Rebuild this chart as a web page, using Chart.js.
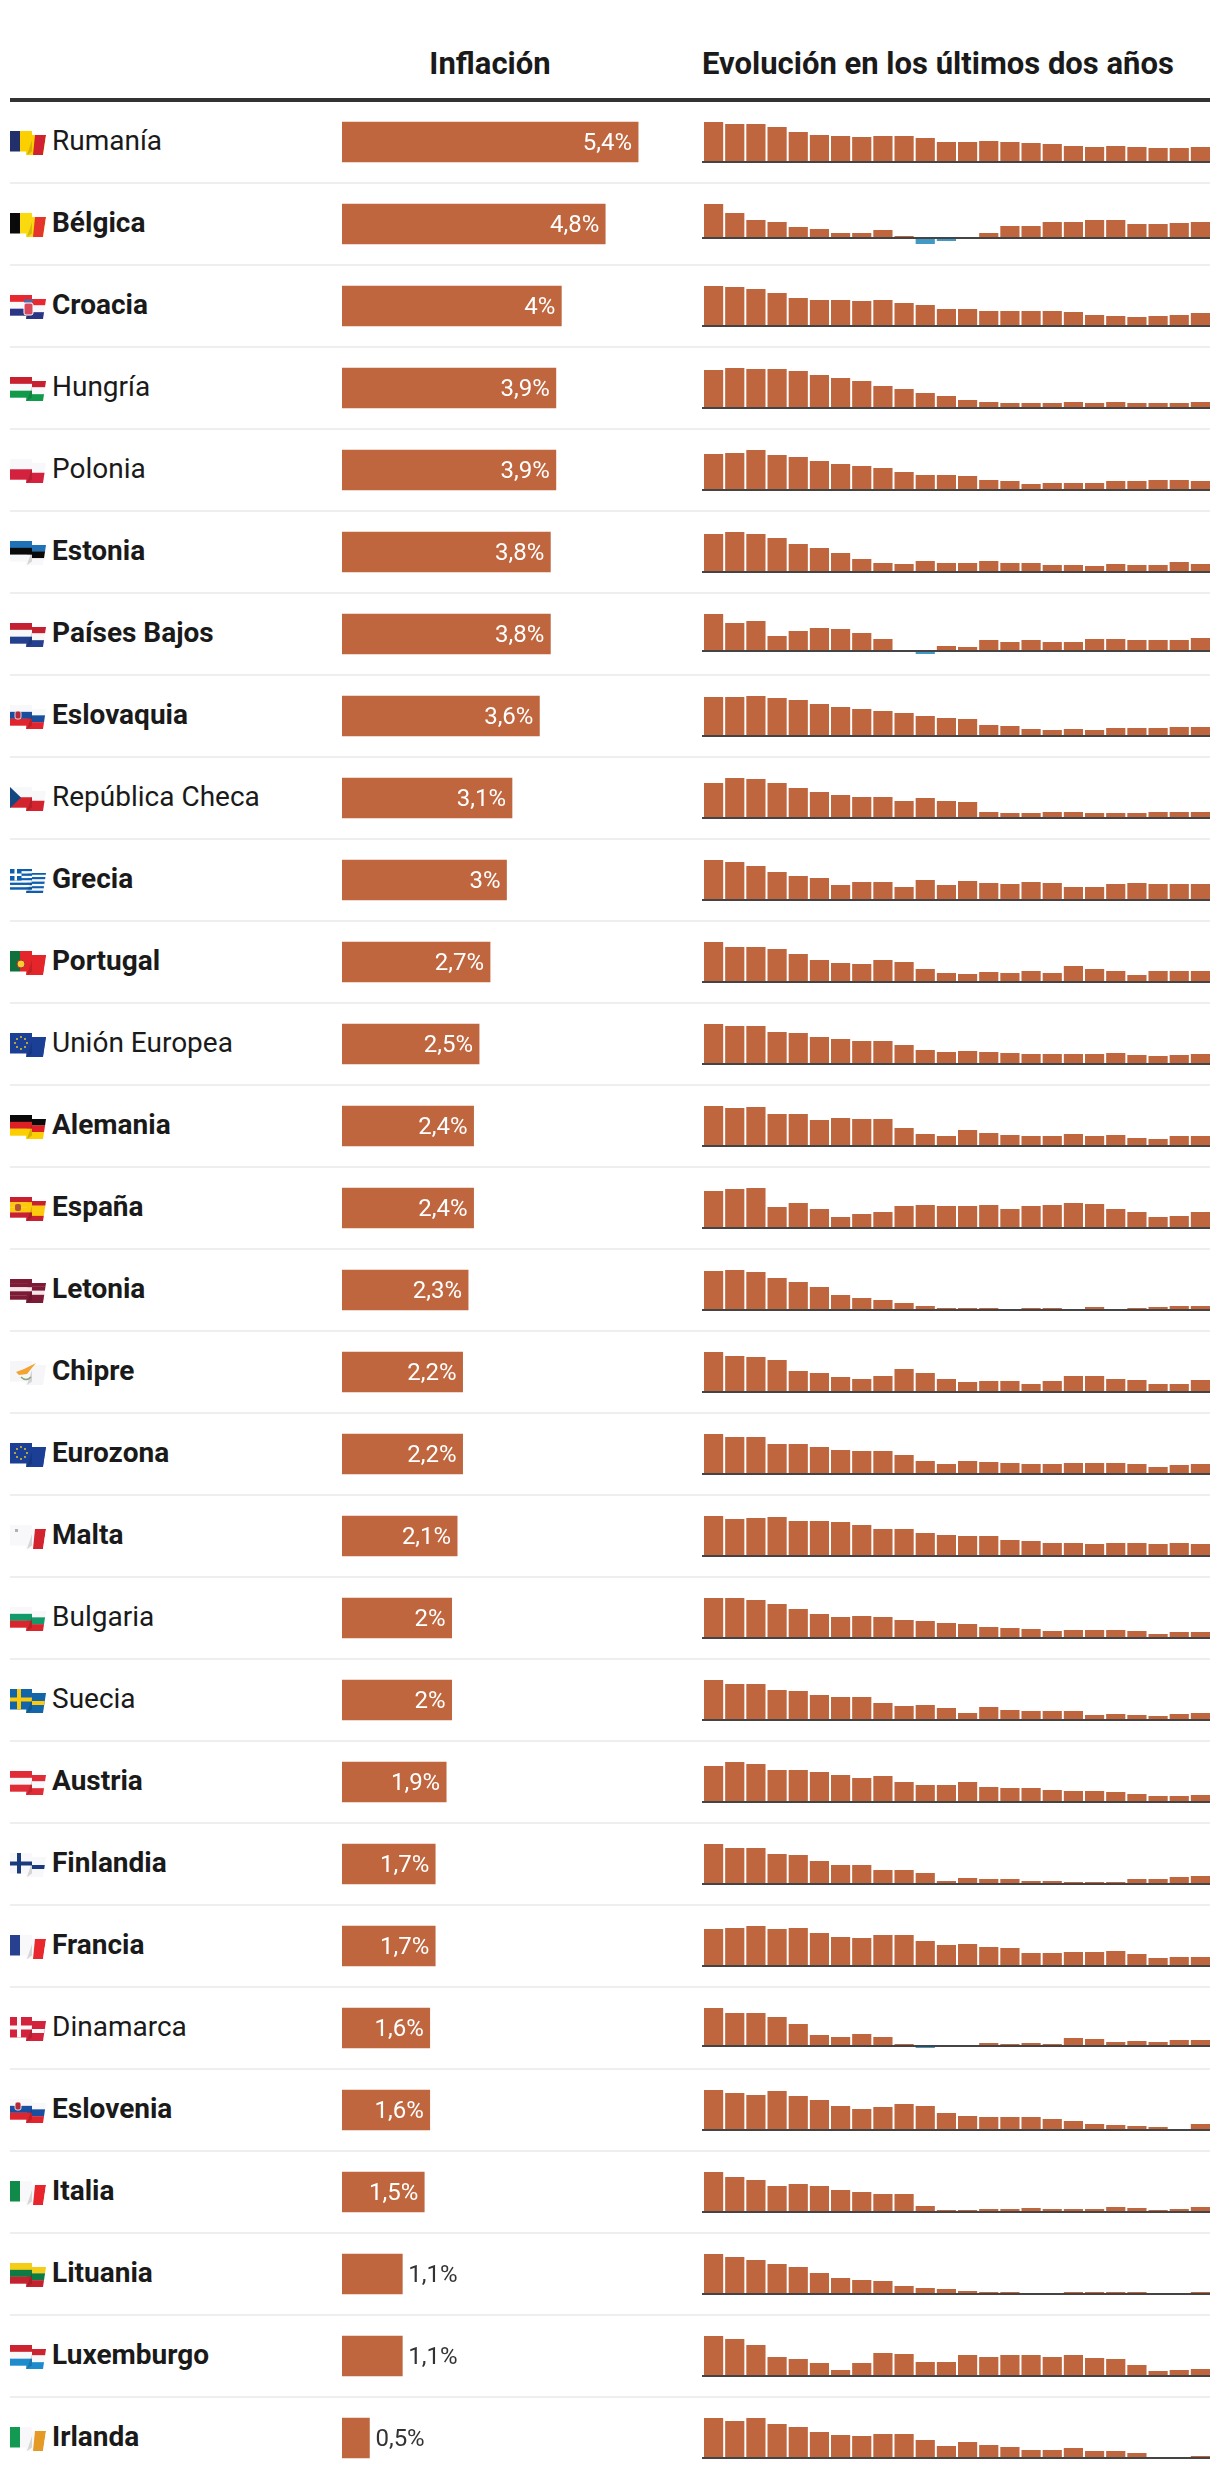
<!DOCTYPE html>
<html lang="es">
<head>
<meta charset="utf-8">
<title>Inflación en la UE</title>
<script src="https://cdn.jsdelivr.net/npm/chart.js@4"></script>
<style>
    html, body { margin: 0; background: #fff; }
    #page { position: relative; width: 1220px; height: 2488px; overflow: hidden; color: #1a1a1a; font-family: Roboto, sans-serif; }
    .head { position: absolute; top: 44px; height: 40px; line-height: 40px; font-size: 31px; font-weight: 700; white-space: nowrap; }
    .rule { position: absolute; left: 10px; width: 1200px; }
    .name { position: absolute; left: 52px; height: 40px; line-height: 37px; font-size: 28px; white-space: nowrap; }
    .name.bold { font-weight: 700; }
    .flag { position: absolute; left: 10px; width: 36px; height: 24px; }
    canvas { position: absolute; display: block; }
</style>
</head>
<body>
<div id="page">
    <div class="head" style="left:342px;width:296px;text-align:center">Inflación</div>
    <div class="head" style="left:702px">Evolución en los últimos dos años</div>
    <div class="rule" style="top:98px;height:4px;background:#333"></div>
    <canvas id="mainChart" width="340" height="2378" style="left:342px;top:101px"></canvas>
</div>
<script>
const countries = ['Rumanía', 'Bélgica', 'Croacia', 'Hungría', 'Polonia', 'Estonia', 'Países Bajos', 'Eslovaquia',
    'República Checa', 'Grecia', 'Portugal', 'Unión Europea', 'Alemania', 'España', 'Letonia', 'Chipre', 'Eurozona',
    'Malta', 'Bulgaria', 'Suecia', 'Austria', 'Finlandia', 'Francia', 'Dinamarca', 'Eslovenia', 'Italia', 'Lituania',
    'Luxemburgo', 'Irlanda'];
const inflation = [5.4, 4.8, 4, 3.9, 3.9, 3.8, 3.8, 3.6, 3.1, 3, 2.7, 2.5, 2.4, 2.4, 2.3, 2.2, 2.2, 2.1, 2, 2, 1.9, 1.7, 1.7, 1.6, 1.6, 1.5, 1.1, 1.1, 0.5];
const notBold = ['Rumanía', 'Hungría', 'Polonia', 'República Checa', 'Unión Europea', 'Bulgaria', 'Suecia', 'Dinamarca'];

// The small charts have no axis and each row has its own scale, so these are
// relative values (tallest bar of a row is about 39)
const rumania = [39, 37, 37, 34, 29, 26, 25, 24, 25, 25, 23, 19, 19, 20, 19, 18, 17, 15, 14, 15, 14, 13, 13, 14];
const belgica = [33, 24, 17, 15, 10, 8, 4, 4, 7, 1, -7, -4, 0, 4, 11, 11, 15, 15, 17, 17, 13, 13, 14, 15];
const croacia = [39, 38, 36, 32, 27, 25, 25, 24, 25, 22, 20, 16, 16, 14, 14, 14, 14, 13, 10, 9, 8, 9, 10, 12];
const hungria = [37, 39, 38, 38, 36, 32, 29, 26, 21, 18, 14, 11, 7, 5, 4, 4, 4, 5, 4, 5, 4, 4, 4, 5];
const polonia = [35, 36, 39, 34, 32, 28, 25, 23, 21, 17, 14, 14, 13, 9, 8, 5, 6, 6, 6, 8, 8, 9, 9, 8];
const estonia = [37, 39, 37, 33, 27, 23, 18, 12, 8, 7, 10, 8, 8, 10, 8, 8, 6, 6, 5, 7, 6, 6, 9, 7];
const paisesBajos = [36, 27, 29, 14, 19, 22, 21, 17, 11, 0, -4, 4, 3, 10, 8, 10, 8, 8, 11, 11, 10, 10, 10, 12];
const eslovaquia = [38, 38, 39, 37, 35, 31, 28, 26, 24, 22, 19, 17, 16, 10, 9, 6, 5, 6, 5, 7, 7, 7, 8, 8];
const republicaCheca = [34, 39, 38, 34, 29, 25, 22, 20, 20, 16, 19, 16, 15, 5, 4, 4, 5, 5, 4, 4, 4, 5, 5, 5];
const grecia = [39, 37, 33, 27, 23, 21, 14, 17, 17, 12, 19, 14, 18, 16, 15, 17, 16, 12, 12, 15, 16, 15, 15, 15];
const portugal = [39, 34, 34, 32, 27, 21, 18, 17, 21, 19, 12, 8, 7, 9, 8, 10, 8, 15, 12, 10, 6, 10, 10, 10];
const unionEuropea = [39, 37, 37, 31, 30, 26, 24, 22, 22, 18, 13, 11, 12, 11, 10, 9, 9, 9, 9, 10, 8, 7, 8, 9];
const alemania = [39, 37, 38, 31, 31, 25, 27, 26, 26, 17, 11, 9, 15, 12, 10, 9, 9, 11, 9, 10, 7, 6, 9, 9];
const espana = [36, 38, 39, 20, 24, 18, 10, 13, 15, 21, 22, 21, 21, 22, 18, 21, 22, 24, 23, 18, 15, 10, 11, 15];
const letonia = [38, 39, 37, 31, 27, 22, 14, 11, 9, 6, 3, 1, 1, 1, 0, 1, 1, 0, 2, 0, 1, 2, 3, 3];
const chipre = [39, 35, 34, 31, 20, 18, 14, 12, 15, 22, 18, 12, 9, 10, 10, 7, 10, 15, 15, 12, 11, 7, 7, 11];
const eurozona = [39, 36, 36, 29, 29, 26, 23, 22, 22, 18, 12, 9, 12, 11, 10, 9, 9, 10, 10, 10, 9, 6, 8, 9];
const malta = [39, 36, 37, 38, 34, 34, 33, 30, 26, 26, 22, 20, 19, 19, 15, 14, 12, 12, 11, 12, 12, 11, 12, 11];
const bulgaria = [39, 39, 37, 33, 28, 23, 20, 21, 20, 17, 16, 14, 13, 10, 9, 8, 6, 7, 7, 7, 6, 3, 5, 5];
const suecia = [39, 35, 35, 29, 28, 24, 22, 22, 16, 13, 14, 11, 6, 12, 9, 8, 8, 8, 4, 5, 4, 3, 5, 6];
const austria = [35, 39, 37, 31, 31, 29, 26, 23, 25, 19, 16, 16, 19, 14, 13, 13, 11, 10, 10, 9, 7, 5, 5, 6];
const finlandia = [39, 35, 35, 29, 28, 22, 18, 18, 13, 13, 10, 2, 5, 4, 4, 2, 2, 1, 1, 1, 4, 4, 6, 7];
const francia = [36, 37, 39, 36, 37, 32, 28, 27, 30, 30, 24, 20, 21, 18, 17, 12, 12, 13, 13, 14, 11, 7, 8, 8];
const dinamarca = [37, 32, 32, 28, 21, 10, 8, 11, 8, 1, -3, 0, 0, 2, 1, 2, 1, 7, 6, 3, 4, 3, 5, 5];
const eslovenia = [39, 36, 34, 38, 33, 29, 23, 20, 22, 25, 23, 16, 13, 12, 12, 12, 10, 8, 5, 4, 3, 2, 0, 5];
const italia = [39, 34, 31, 25, 27, 25, 21, 19, 17, 17, 5, 1, 1, 2, 2, 3, 2, 2, 2, 4, 3, 1, 2, 4];
const lituania = [39, 36, 33, 29, 26, 20, 15, 13, 12, 7, 5, 4, 2, 1, 1, 0, 0, 1, 1, 1, 1, 0, 0, 1];
const luxemburgo = [39, 36, 30, 18, 16, 12, 5, 12, 22, 21, 13, 13, 20, 18, 20, 20, 18, 20, 17, 16, 10, 4, 5, 6];
const irlanda = [39, 36, 39, 33, 30, 25, 22, 21, 23, 23, 17, 11, 15, 12, 10, 7, 7, 9, 6, 6, 4, 0, 0, 1];

const evolution = [rumania, belgica, croacia, hungria, polonia, estonia, paisesBajos, eslovaquia, republicaCheca,
    grecia, portugal, unionEuropea, alemania, espana, letonia, chipre, eurozona, malta, bulgaria, suecia, austria,
    finlandia, francia, dinamarca, eslovenia, italia, lituania, luxemburgo, irlanda];
const months = rumania.map((v, i) => String(i + 1));

const BAR_COLOR = '#bf663e';
const NEGATIVE_COLOR = '#4299c5';
const ROW_TOP = 122;
const ROW_STEP = 82;
const SPARK_SPAN = 40;

const WHITE = '#f8f8fa';
const euStars = [[11, 4], [15, 6], [17, 10], [15, 14], [11, 16], [7, 14], [5, 10], [7, 6]]
    .map(p => `<circle cx="${p[0]}" cy="${p[1]}" r="0.9" fill="#f7d618"/>`).join('');
const shield = (x, y) => `<rect x="${x}" y="${y}" width="6" height="8" rx="2" fill="#b5293a" stroke="#fff" stroke-width="0.8"/>`;

const flagStyles = {
    'Rumanía': { v: ['#222f6b', '#fccf00', '#cf2130'] },
    'Bélgica': { v: ['#0a0a0a', '#fad90f', '#e4342b'] },
    'Croacia': { h: ['#e8272e', WHITE, '#2a3585'], extra: '<rect x="14" y="8" width="9" height="12" rx="2" fill="#d9475a" stroke="#fff"/><rect x="14" y="4.5" width="9" height="3" fill="#4a6aa8"/>' },
    'Hungría': { h: ['#c8202f', WHITE, '#129a4b'] },
    'Polonia': { h: [WHITE, '#d4213d'] },
    'Estonia': { h: ['#1f71b8', '#0a0a0a', WHITE] },
    'Países Bajos': { h: ['#c4202f', WHITE, '#24408e'] },
    'Eslovaquia': { h: [WHITE, '#1a4e9c', '#e0252e'], extra: shield(5, 6) },
    'República Checa': { h: [WHITE, '#d2232f'], extra: '<path d="M0 0L11 10.5L0 21Z" fill="#14477f"/>' },
    'Grecia': { h: ['#0d5eaf', WHITE, '#0d5eaf', WHITE, '#0d5eaf', WHITE, '#0d5eaf', WHITE, '#0d5eaf'], extra: '<rect width="11.5" height="11.5" fill="#0d5eaf"/><rect x="4.5" width="2.5" height="11.5" fill="#fff"/><rect y="4.5" width="11.5" height="2.5" fill="#fff"/>' },
    'Portugal': { v: ['#10703c', '#e4262b', '#e4262b'], extra: '<circle cx="11" cy="13" r="4" fill="#f4d22b" stroke="#b5293a"/>' },
    'Unión Europea': { v: ['#1b3f94', '#1b3f94', '#1b3f94'], extra: euStars },
    'Alemania': { h: ['#0a0a0a', '#dd1f26', '#fccf00'] },
    'España': { h: ['#c8202f', '#fcc90c', '#fcc90c', '#c8202f'], extra: '<rect x="5" y="7" width="6" height="7" rx="2" fill="#b5543a"/>' },
    'Letonia': { h: ['#7d1a36', '#7d1a36', '#f2e6ea', '#7d1a36', '#7d1a36'] },
    'Chipre': { v: ['#f6f6f8', '#f6f6f8', '#f6f6f8'], extra: '<path d="M6 11L14 8L26 2L21 8L17 13L9 14Z" fill="#f2a331"/><path d="M11 16Q16 21 21 16" fill="none" stroke="#8aa37a" stroke-width="1.6"/>' },
    'Eurozona': { v: ['#1b3f94', '#1b3f94', '#1b3f94'], extra: euStars },
    'Malta': { v: [WHITE, WHITE, '#d2232f'], extra: '<rect x="5" y="4" width="3" height="3" fill="#b0b0b0"/>' },
    'Bulgaria': { h: [WHITE, '#129a6b', '#d8262c'] },
    'Suecia': { cross: ['#1165a8', '#fcc90c'] },
    'Austria': { h: ['#e02c37', WHITE, '#e02c37'] },
    'Finlandia': { cross: [WHITE, '#1a3a7c'] },
    'Francia': { v: ['#27408f', WHITE, '#e8282e'] },
    'Dinamarca': { cross: ['#d3223c', WHITE] },
    'Eslovenia': { h: [WHITE, '#1a4fa0', '#e0252e'], extra: shield(5, 3) },
    'Italia': { v: ['#0f8a48', WHITE, '#e8242d'] },
    'Lituania': { h: ['#f5cd14', '#0e7a44', '#c4222f'] },
    'Luxemburgo': { h: ['#cc2331', WHITE, '#1e8bcd'] },
    'Irlanda': { v: ['#129a52', WHITE, '#e59a25'] }
};

// Two overlapping pieces: a straight one on the left and a slanted one on the right
function flagSvg(name, index) {
    const f = flagStyles[name];
    const rightPoints = '18,4 36,4 33,24 16,24';
    let right = '';
    let left = '';
    if (f.h) {
        const h = 20.5 / f.h.length;
        f.h.forEach((c, i) => {
            right += `<rect x="0" y="${3.5 + i * h}" width="36" height="${h + 0.2}" fill="${c}"/>`;
            left += `<rect x="0" y="${i * h}" width="22" height="${h + 0.2}" fill="${c}"/>`;
        });
    } else if (f.v) {
        right = `<rect width="36" height="24" fill="${f.v[1]}"/><polygon points="25,4 36,4 33,24 23,24" fill="${f.v[2]}"/>`;
        left = `<rect width="10" height="20.5" fill="${f.v[0]}"/><rect x="10" width="12" height="20.5" fill="${f.v[1]}"/>`;
    } else {
        right = `<rect width="36" height="24" fill="${f.cross[0]}"/><rect y="12" width="36" height="4" fill="${f.cross[1]}"/>`;
        left = `<rect width="22" height="20.5" fill="${f.cross[0]}"/><rect x="7" width="4" height="20.5" fill="${f.cross[1]}"/><rect y="8.5" width="22" height="4" fill="${f.cross[1]}"/>`;
    }
    return `<svg class="flag" viewBox="0 0 36 24" style="top:${ROW_TOP + ROW_STEP * index + 9}px">
        <clipPath id="fold${index}"><polygon points="${rightPoints}"/></clipPath>
        <g clip-path="url(#fold${index})">${right}</g>
        ${left}
        <polygon points="22,9 22,20.5 17,24" fill="rgba(0,0,0,0.14)"/>
        ${f.extra || ''}
    </svg>`;
}

const page = document.getElementById('page');

countries.forEach((name, i) => {
    const top = ROW_TOP + ROW_STEP * i;
    const label = document.createElement('div');
    label.className = notBold.includes(name) ? 'name' : 'name bold';
    label.style.top = top + 'px';
    label.textContent = name;
    page.appendChild(label);
    page.insertAdjacentHTML('beforeend', flagSvg(name, i));
    if (i < countries.length - 1) {
        page.insertAdjacentHTML('beforeend', `<div class="rule" style="top:${top + 60}px;height:2px;background:#eee"></div>`);
    }
});

// Writes the value inside the bar, or next to it when the bar is too short
const valueLabels = {
    id: 'valueLabels',
    afterDatasetsDraw(chart) {
        const ctx = chart.ctx;
        ctx.save();
        ctx.font = '400 24px Roboto';
        ctx.textBaseline = 'middle';
        chart.getDatasetMeta(0).data.forEach((bar, i) => {
            const text = inflation[i].toLocaleString('es-ES') + '%';
            const inside = inflation[i] >= 1.5;
            ctx.fillStyle = inside ? '#fff' : '#333';
            ctx.textAlign = inside ? 'right' : 'left';
            ctx.fillText(text, inside ? bar.x - 6 : bar.x + 6, bar.y + 2);
        });
        ctx.restore();
    }
};

new Chart(document.getElementById('mainChart'), {
    type: 'bar',
    data: {
        labels: countries,
        datasets: [{ data: inflation, backgroundColor: BAR_COLOR, barThickness: 40, borderWidth: 0 }]
    },
    options: {
        indexAxis: 'y',
        responsive: false,
        animation: false,
        plugins: { legend: { display: false }, tooltip: { enabled: false } },
        scales: {
            x: { display: false, min: 0, max: 6.2 },
            y: { display: false }
        }
    },
    plugins: [valueLabels]
});

// Dark line at zero on top of the bars
const zeroLine = {
    id: 'zeroLine',
    afterDatasetsDraw(chart) {
        const y = chart.scales.y.getPixelForValue(0);
        chart.ctx.save();
        chart.ctx.fillStyle = '#444';
        chart.ctx.fillRect(0, y, 508, 2);
        chart.ctx.restore();
    }
};

evolution.forEach((values, i) => {
    const canvas = document.createElement('canvas');
    canvas.width = 510;
    canvas.height = 60;
    canvas.style.left = '702px';
    canvas.style.top = ROW_TOP + ROW_STEP * i + 'px';
    page.appendChild(canvas);

    const top = Math.max(...values);
    new Chart(canvas, {
        type: 'bar',
        data: {
            labels: months,
            datasets: [{
                data: values,
                backgroundColor: values.map(v => v < 0 ? NEGATIVE_COLOR : BAR_COLOR),
                barPercentage: 0.907,
                categoryPercentage: 1,
                borderWidth: 0
            }]
        },
        options: {
            responsive: false,
            animation: false,
            layout: { padding: { left: 1, right: 1, top: 0, bottom: 20 } },
            plugins: { legend: { display: false }, tooltip: { enabled: false } },
            scales: {
                x: { display: false },
                y: { display: false, min: top - SPARK_SPAN, max: top }
            }
        },
        plugins: [zeroLine]
    });
});
</script>
</body>
</html>
